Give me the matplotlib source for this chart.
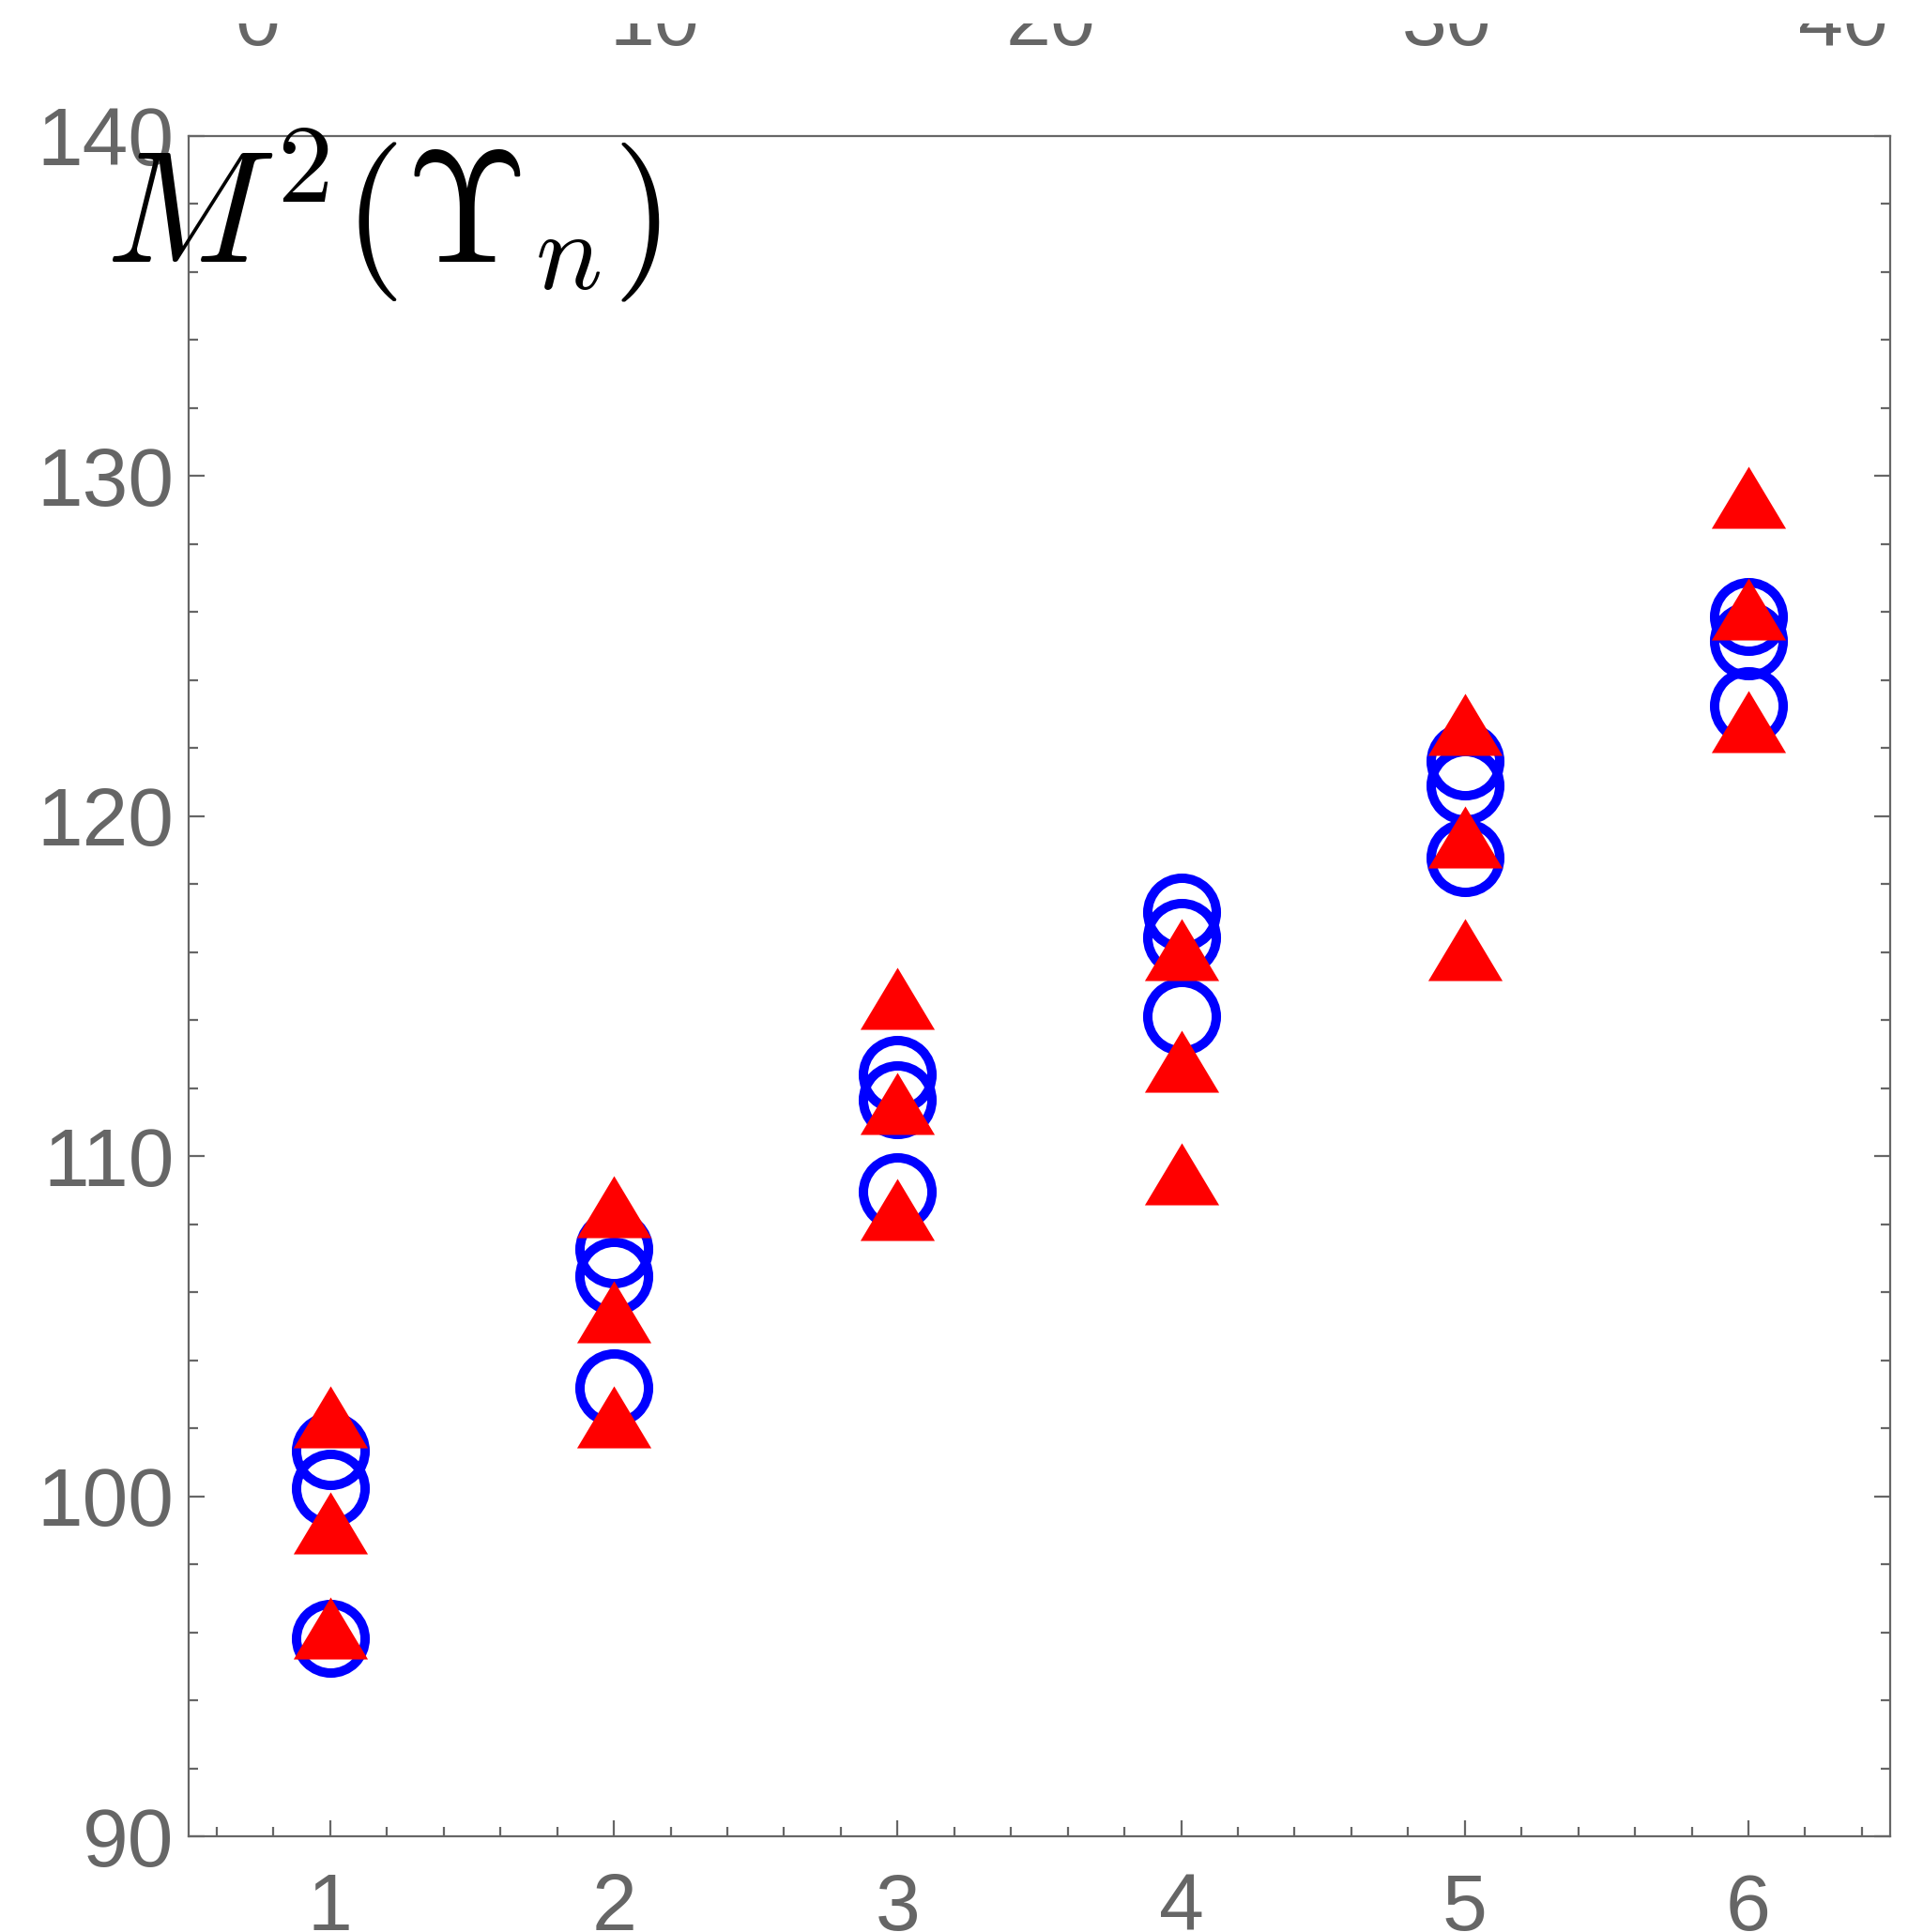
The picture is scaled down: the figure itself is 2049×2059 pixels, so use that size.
import numpy as np
import matplotlib
matplotlib.use('Agg')
import matplotlib.pyplot as plt
from matplotlib.ticker import MultipleLocator
from matplotlib.markers import MarkerStyle
from matplotlib.transforms import Bbox, TransformedBbox

plt.rcParams['font.family'] = ['Liberation Sans', 'DejaVu Sans']
plt.rcParams['mathtext.fontset'] = 'cm'

# data
n = [1, 2, 3, 4, 5, 6]
circles_1 = [101.34, 107.28, 112.40, 117.18, 121.62, 125.86]
circles_2 = [100.24, 106.47, 111.66, 116.44, 120.91, 125.15]
circles_3 = [95.82, 103.20, 108.96, 114.12, 118.79, 123.24]
triangles_1 = [102.33, 108.52, 114.64, 116.08, 122.70, 129.38]
triangles_2 = [99.22, 105.42, 111.55, 112.79, 119.39, 126.08]
triangles_3 = [96.13, 102.33, 108.43, 109.48, 116.08, 122.79]
y_ticks = [90, 100, 110, 120, 130, 140]
top_ticks = [0, 10, 20, 30, 40]

gray = '#666666'

fig = plt.figure(figsize=(20.49, 20.59), dpi=100)
ax = fig.add_axes([0.098, 0.0495, 0.885, 0.8801])

# wider-than-tall filled triangle like the Mathematica marker
tri = MarkerStyle(np.array([[-1, -0.835], [1, -0.835], [0, 0.835], [-1, -0.835]]))

for ys in (circles_1, circles_2, circles_3):
    ax.plot(n, ys, 'o', ls='none', ms=52.6, mfc='none', mec='#0000ff', mew=7.2)
for ys in (triangles_1, triangles_2, triangles_3):
    ax.plot(n, ys, ls='none', marker=tri, ms=57, mfc='#ff0000', mec='#ff0000', mew=0)

ax.set_xlim(0.5, 6.5)
ax.set_ylim(90, 140)
ax.set_xticks(n)
ax.set_yticks(y_ticks)
ax.xaxis.set_minor_locator(MultipleLocator(0.2))
ax.yaxis.set_minor_locator(MultipleLocator(2))
ax.tick_params(which='both', direction='in', top=True, right=True, color=gray, width=1.6)
ax.tick_params(which='major', length=12.2)
ax.tick_params(which='minor', length=7.2)
ax.tick_params(axis='x', which='major', labelsize=62, labelcolor=gray, pad=27)
ax.tick_params(axis='y', which='major', labelsize=63, labelcolor=gray, pad=11)
for s in ax.spines.values():
    s.set_color(gray)
    s.set_linewidth(1.6)

# stray top tick labels, only their lower part shows
ax2 = ax.twiny()
ax2.set_xlim(-1.754, 41.18)
ax2.set_xticks(top_ticks)
ax2.tick_params(axis='x', length=0, labelsize=62, labelcolor=gray, pad=70)
clip = TransformedBbox(Bbox([[0, 0], [1, 1 - 25 / 2059]]), fig.transFigure)
for lab in ax2.get_xticklabels():
    lab.set_va('baseline')
    lab.set_clip_box(clip)
    lab.set_clip_on(True)
for s in ax2.spines.values():
    s.set_visible(False)

ax.text(-0.049, 0.9255, r'$M^2(\Upsilon_n)$', transform=ax.transAxes,
        fontsize=122, ha='left', va='baseline', color='black', clip_on=False)

fig.savefig('out.png', dpi=100)
